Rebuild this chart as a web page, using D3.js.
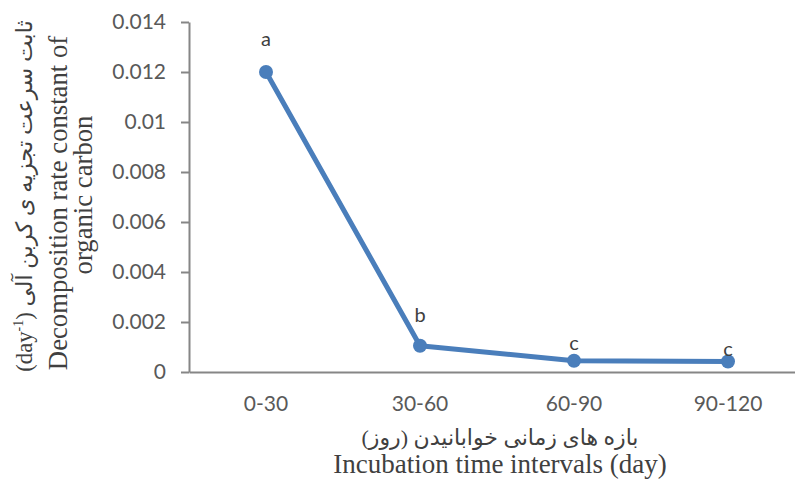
<!DOCTYPE html>
<html><head><meta charset="utf-8">
<script src="https://cdn.jsdelivr.net/npm/d3@7"></script>
<style>body{margin:0;background:#fff}svg{display:block}</style>
</head><body>
<svg id="c" width="795" height="479"></svg>
<script>
const categories = ["0-30", "30-60", "60-90", "90-120"];
const values = [0.012, 0.00105, 0.00045, 0.00042];
const letters = ["a", "b", "c", "c"];
const yTicks = [0, 0.002, 0.004, 0.006, 0.008, 0.01, 0.012, 0.014];

const letterDy = [-26, -24, -11, -6];
const svg = d3.select("#c");
const x = d3.scaleBand().domain(categories).range([189, 805]).padding(0);
const y = d3.scaleLinear().domain([0, 0.014]).range([372, 22]);
const axisColor = "#868686";

// Y axis
const ya = svg.append("g").attr("transform", "translate(189,0)")
  .call(d3.axisLeft(y).tickValues(yTicks).tickSize(8).tickSizeOuter(0).tickPadding(15)
    .tickFormat(d => String(+d.toFixed(4))));
ya.select(".domain").attr("stroke", axisColor).attr("stroke-width", 2);
ya.selectAll(".tick line").attr("stroke", axisColor).attr("stroke-width", 2);
ya.selectAll(".tick text").attr("fill", "#595959").attr("font-family", "Lato").attr("font-size", 21);

// X axis
const xa = svg.append("g").attr("transform", "translate(0,372)")
  .call(d3.axisBottom(x).tickSize(0).tickPadding(24));
xa.select(".domain").attr("stroke", axisColor).attr("stroke-width", 2);
xa.selectAll(".tick text").attr("fill", "#595959").attr("font-family", "Lato").attr("font-size", 21);

// line
const pts = categories.map((c, i) => [x(c) + x.bandwidth() / 2, y(values[i])]);
svg.append("path").datum(pts).attr("d", d3.line())
  .attr("fill", "none").attr("stroke", "#4a7ebb").attr("stroke-width", 5).attr("stroke-linejoin", "round");
svg.selectAll("circle.m").data(pts).join("circle").attr("class", "m")
  .attr("cx", d => d[0]).attr("cy", d => d[1]).attr("r", 7).attr("fill", "#4a7ebb");
svg.selectAll("text.lbl").data(pts).join("text").attr("class", "lbl")
  .attr("x", d => d[0]).attr("y", (d, i) => d[1] + letterDy[i])
  .attr("text-anchor", "middle").attr("font-family", "Lato").attr("font-size", 20).attr("fill", "#404040")
  .text((d, i) => letters[i]);

// X titles
svg.append("text").attr("x", 500).attr("y", 445).attr("text-anchor", "middle")
  .style("direction", "rtl").attr("font-family", "'Liberation Serif', 'DejaVu Sans'").attr("font-size", 22)
  .attr("fill", "#404040").text("بازه های زمانی خوابانیدن (روز)");
svg.append("text").attr("x", 500).attr("y", 473).attr("text-anchor", "middle")
  .attr("font-family", "'Liberation Serif'").attr("font-size", 27).attr("fill", "#404040")
  .text("Incubation time intervals (day)");

// Y titles
const t1 = svg.append("text").attr("transform", "translate(32,196) rotate(-90)").attr("text-anchor", "middle")
  .attr("font-family", "'Liberation Serif', 'DejaVu Sans'").attr("font-size", 22.7).attr("fill", "#404040");
t1.append("tspan").text("(day");
t1.append("tspan").attr("font-size", 14).attr("dy", -9).text("-1");
t1.append("tspan").attr("dy", 9).text(") ثابت سرعت تجزیه ی کربن آلی");
svg.append("text").attr("transform", "translate(67,203) rotate(-90)").attr("text-anchor", "middle")
  .attr("font-family", "'Liberation Serif'").attr("font-size", 26.7).attr("fill", "#404040")
  .text("Decomposition rate constant of");
svg.append("text").attr("transform", "translate(92,195) rotate(-90)").attr("text-anchor", "middle")
  .attr("font-family", "'Liberation Serif'").attr("font-size", 26.7).attr("fill", "#404040")
  .text("organic carbon");
</script>
</body></html>
